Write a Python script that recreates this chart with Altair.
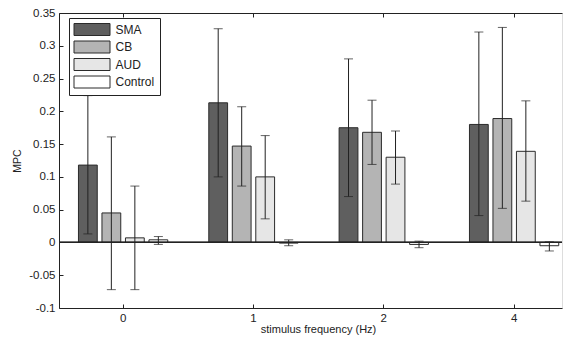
import altair as alt
import pandas as pd

freqs = ["0", "1", "2", "4"]
series = ["SMA", "CB", "AUD", "Control"]
colors = ["#5f5f5f", "#b4b4b4", "#e6e6e6", "#ffffff"]

mean_SMA = [0.118, 0.213, 0.175, 0.180]
mean_CB = [0.045, 0.147, 0.168, 0.189]
mean_AUD = [0.007, 0.100, 0.130, 0.139]
mean_Control = [0.004, -0.001, -0.003, -0.005]

lo_SMA = [0.013, 0.100, 0.070, 0.041]
lo_CB = [-0.072, 0.086, 0.119, 0.052]
lo_AUD = [-0.072, 0.036, 0.089, 0.063]
lo_Control = [-0.003, -0.005, -0.008, -0.013]

hi_SMA = [0.224, 0.326, 0.280, 0.321]
hi_CB = [0.161, 0.207, 0.217, 0.328]
hi_AUD = [0.086, 0.163, 0.170, 0.216]
hi_Control = [0.009, 0.004, 0.002, 0.001]

means = {"SMA": mean_SMA, "CB": mean_CB, "AUD": mean_AUD, "Control": mean_Control}
lows = {"SMA": lo_SMA, "CB": lo_CB, "AUD": lo_AUD, "Control": lo_Control}
highs = {"SMA": hi_SMA, "CB": hi_CB, "AUD": hi_AUD, "Control": hi_Control}

rows = []
for s in series:
    for i, f in enumerate(freqs):
        rows.append({"freq": f, "series": s, "mpc": means[s][i],
                     "lo": lows[s][i], "hi": highs[s][i]})
df = pd.DataFrame(rows)

W, H = 503, 295
FONT = "Liberation Sans"
yvals = [-0.1, -0.05, 0, 0.05, 0.1, 0.15, 0.2, 0.25, 0.3, 0.35]

xscale = alt.Scale(domain=freqs, paddingInner=0.2788, paddingOuter=0.0691, align=0.95)
xoscale = alt.Scale(domain=series, paddingInner=0.2, paddingOuter=0.1)
yscale = alt.Scale(domain=[-0.1, 0.35], nice=False, zero=False)

base = alt.Chart(df)

bars = base.mark_bar(stroke="#2b2b2b", strokeWidth=1).encode(
    x=alt.X("freq:N", scale=xscale, sort=freqs,
            axis=alt.Axis(title="stimulus frequency (Hz)", labelAngle=0, ticks=False,
                          domainColor="#222", labelFontSize=11.5, titleFontSize=11,
                          labelPadding=4, titlePadding=0, labelColor="#222",
                          titleColor="#222", titleFontWeight="normal",
                          labelFont=FONT, titleFont=FONT, titleX=259)),
    xOffset=alt.XOffset("series:N", scale=xoscale, sort=series),
    y=alt.Y("mpc:Q", scale=yscale,
            axis=alt.Axis(title="MPC", values=yvals, ticks=False, grid=False,
                          domainColor="#222", labelFontSize=11.5, titleFontSize=10.5,
                          labelPadding=4, titlePadding=6, labelColor="#222",
                          titleColor="#222", titleFontWeight="normal",
                          labelFont=FONT, titleFont=FONT,
                          labelExpr="'' + round(datum.value * 100) / 100")),
    fill=alt.Fill("series:N", sort=series,
                  scale=alt.Scale(domain=series, range=colors),
                  legend=alt.Legend(title=None, orient="none", legendX=10, legendY=5,
                                    symbolType="M-3,-1H3V1H-3Z", symbolSize=144,
                                    symbolOffset=11.5,
                                    symbolStrokeColor="#2b2b2b", symbolStrokeWidth=1,
                                    labelFontSize=12, labelFont=FONT, labelColor="#222",
                                    labelOffset=17, rowPadding=0.5, padding=5,
                                    strokeColor="#222", fillColor="white")),
)

zero = base.mark_rule(color="#222", strokeWidth=1).encode(
    y=alt.Y(datum=0, scale=yscale, axis=None)
)

rules = base.mark_rule(color="#222", strokeWidth=1).encode(
    x=alt.X("freq:N", scale=xscale, sort=freqs,
            axis=alt.Axis(orient="top", offset=-H, labels=False, domain=False,
                          tickSize=4, tickColor="#222", title=None)),
    xOffset=alt.XOffset("series:N", scale=xoscale, sort=series),
    y=alt.Y("lo:Q", scale=yscale,
            axis=alt.Axis(orient="right", offset=-W, labels=False, domain=False,
                          values=yvals, tickSize=4, tickColor="#222", title=None,
                          grid=False)),
    y2="hi:Q",
)

caps_lo = base.mark_tick(color="#222", thickness=1, size=9).encode(
    x=alt.X("freq:N", scale=xscale, sort=freqs,
            axis=alt.Axis(orient="bottom", offset=-H, labels=False, domain=True,
                          domainColor="#222", tickSize=4, tickColor="#222", title=None)),
    xOffset=alt.XOffset("series:N", scale=xoscale, sort=series),
    y=alt.Y("lo:Q", scale=yscale, axis=None),
)

caps_hi = base.mark_tick(color="#222", thickness=1, size=9).encode(
    x=alt.X("freq:N", scale=xscale, sort=freqs, axis=None),
    xOffset=alt.XOffset("series:N", scale=xoscale, sort=series),
    y=alt.Y("hi:Q", scale=yscale, axis=None),
)

chart = alt.layer(bars, zero, rules, caps_lo, caps_hi).resolve_axis(
    x="independent", y="independent"
).properties(
    width=W, height=H,
    autosize=alt.AutoSizeParams(type="none"),
    padding={"left": 51, "top": 5, "right": 1, "bottom": 27},
).configure_view(stroke=None).configure(background="white")

chart.save("out.html", embed_options={"renderer": "svg", "actions": False})
